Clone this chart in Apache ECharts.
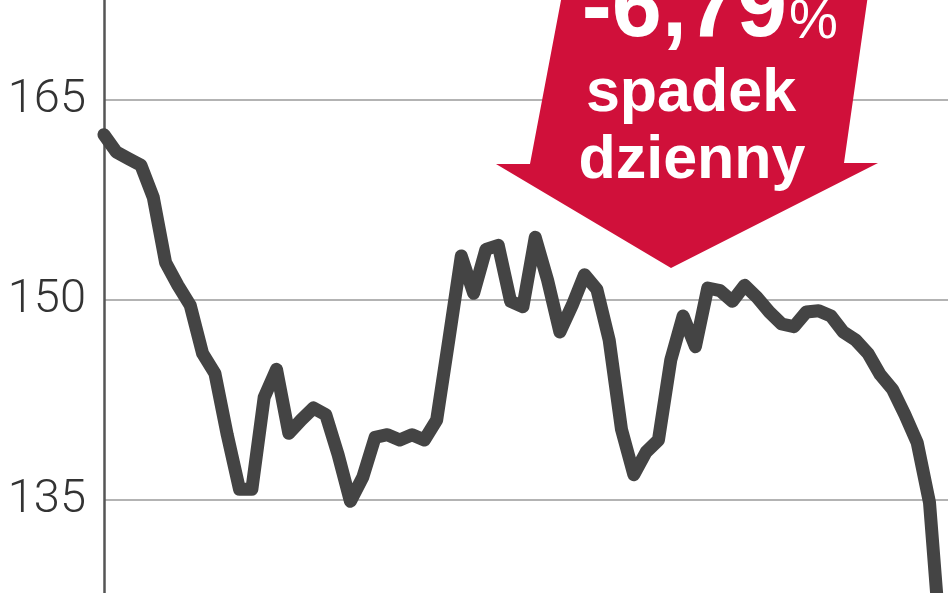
<!DOCTYPE html>
<html>
<head>
<meta charset="utf-8">
<script src="https://cdn.jsdelivr.net/npm/echarts@6/dist/echarts.min.js"></script>
<style>
html,body{margin:0;padding:0;background:#fff;}
#chart{width:948px;height:593px;}
</style>
</head>
<body>
<div id="chart"></div>
<script>
// Daily closing values
const prices = [
  162.4, 161.1, 160.6, 160.1, 157.7, 152.8, 151.1, 149.6, 146.0, 144.5,
  139.9, 135.8, 135.8, 142.7, 144.8, 140.0, 141.0, 141.9, 141.4, 138.4,
  134.9, 136.7, 139.7, 139.9, 139.5, 139.9, 139.5, 141.0, 147.1, 153.3,
  150.5, 153.8, 154.1, 149.9, 149.5, 154.7, 151.5, 147.6, 149.6, 151.9,
  150.8, 147.0, 140.3, 136.9, 138.6, 139.5, 145.5, 148.8, 146.5, 150.9,
  150.7, 149.9, 151.1, 150.2, 149.1, 148.2, 148.0, 149.1, 149.2, 148.8,
  147.6, 147.0, 146.0, 144.4, 143.3, 141.4, 139.3, 134.8, 123.0
];
const yTicks = [135, 150, 165];
const bigText = '-6,79';
const pctText = '%';
const line1 = 'spadek';
const line2 = 'dzienny';

const chart = echarts.init(document.getElementById('chart'));
const seriesData = prices.map((v, i) => [i, v]);

chart.setOption({
  animation: false,
  backgroundColor: '#ffffff',
  grid: { left: 104, right: 0, top: 0, bottom: 0 },
  xAxis: {
    type: 'value', min: 0, max: 68.5, show: false
  },
  yAxis: {
    type: 'value', min: 128.025, max: 172.5,
    axisLine: { show: true, lineStyle: { color: '#555', width: 2.5 } },
    axisTick: { show: false, customValues: yTicks },
    axisLabel: {
      customValues: yTicks, color: '#333', fontSize: 47, fontWeight: 300,
      fontFamily: 'Roboto, "Liberation Sans", sans-serif', margin: 18
    },
    splitLine: { show: true, customValues: yTicks, lineStyle: { color: '#b3b3b3', width: 2 } }
  },
  series: [{
    type: 'line',
    data: seriesData,
    symbol: 'none',
    clip: true,
    lineStyle: { color: '#444444', width: 13, join: 'round', cap: 'round' }
  }],
  graphic: [
    {
      type: 'polygon', z: 10,
      shape: { points: [[562,-5],[868,-5],[844,163],[878,163],[671,268],[496,164],[530,164]] },
      style: { fill: '#d0103a' }
    },
    {
      type: 'text', z: 11,
      style: { text: bigText, x: 787, y: 11, align: 'right', verticalAlign: 'middle',
        font: 'bold 90px "Liberation Sans", Arial, sans-serif', fill: '#fff' }
    },
    {
      type: 'text', z: 11,
      style: { text: pctText, x: 789, y: 23, align: 'left', verticalAlign: 'middle',
        font: 'normal 55px "Liberation Sans", Arial, sans-serif', fill: '#fff' }
    },
    {
      type: 'text', z: 11,
      style: { text: line1, x: 691, y: 94, align: 'center', verticalAlign: 'middle',
        font: 'bold 61px "Liberation Sans", Arial, sans-serif', fill: '#fff' }
    },
    {
      type: 'text', z: 11,
      style: { text: line2, x: 692, y: 161, align: 'center', verticalAlign: 'middle',
        font: 'bold 61px "Liberation Sans", Arial, sans-serif', fill: '#fff' }
    }
  ]
});
</script>
</body>
</html>
